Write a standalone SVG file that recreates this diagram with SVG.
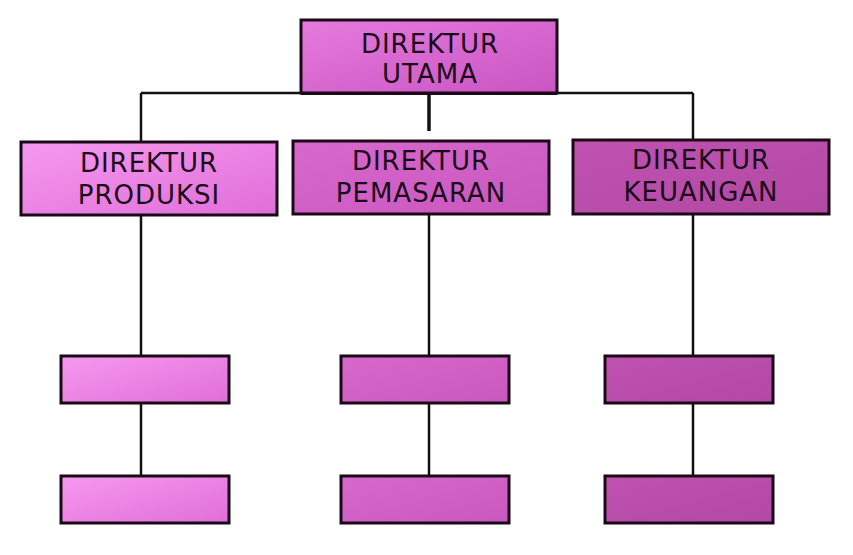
<svg xmlns="http://www.w3.org/2000/svg" width="853" height="555" viewBox="0 0 853 555">
<style>
.box{stroke:#1a0a18;stroke-width:3}
.lbl{font-family:"DejaVu Sans","Liberation Sans",sans-serif;font-size:26px;letter-spacing:1px;fill:#1a0a18;text-anchor:middle}
.ln{stroke:#111;stroke-width:2.5;fill:none}
</style>
<defs>
<linearGradient id="gTop" x1="0" y1="0" x2="1" y2="1"><stop offset="0" stop-color="#e67ade"/><stop offset="1" stop-color="#c955c2"/></linearGradient>
<linearGradient id="gA" x1="0" y1="0" x2="1" y2="1"><stop offset="0" stop-color="#f699ef"/><stop offset="1" stop-color="#e06ed8"/></linearGradient>
<linearGradient id="gB" x1="0" y1="0" x2="1" y2="1"><stop offset="0" stop-color="#d868cd"/><stop offset="1" stop-color="#c958be"/></linearGradient>
<linearGradient id="gC" x1="0" y1="0" x2="1" y2="1"><stop offset="0" stop-color="#c052b2"/><stop offset="1" stop-color="#b249a3"/></linearGradient>
</defs>
<rect width="853" height="555" fill="#ffffff"/>
<g id="connectors">
<path class="ln" d="M141 93 H693"/>
<path class="ln" d="M141 93 V141"/>
<path class="ln" d="M693 93 V139"/>
<path class="ln" d="M429 80 V131" style="stroke-width:3.5"/>
<path class="ln" d="M141 215 V356 M141 403 V476"/>
<path class="ln" d="M429 214 V356 M429 403 V476"/>
<path class="ln" d="M693 214 V356 M693 403 V476"/>
</g>
<g id="direktur-utama">
<rect class="box" x="301" y="20" width="256" height="73" fill="url(#gTop)"/>
<path d="M301 94 H557" stroke="#1a0a18" stroke-width="2"/>
<text class="lbl" x="430" y="53">DIREKTUR</text>
<text class="lbl" x="430" y="83">UTAMA</text>
</g>
<g id="direktur-produksi">
<rect class="box" x="21" y="142" width="256" height="73" fill="url(#gA)"/>
<text class="lbl" x="149" y="172">DIREKTUR</text>
<text class="lbl" x="149" y="204">PRODUKSI</text>
</g>
<g id="direktur-pemasaran">
<rect class="box" x="293" y="141" width="256" height="73" fill="url(#gB)"/>
<text class="lbl" x="421" y="170">DIREKTUR</text>
<text class="lbl" x="421" y="202">PEMASARAN</text>
</g>
<g id="direktur-keuangan">
<rect class="box" x="573" y="140" width="256" height="74" fill="url(#gC)"/>
<text class="lbl" x="701" y="169">DIREKTUR</text>
<text class="lbl" x="701" y="201">KEUANGAN</text>
</g>
<g id="produksi-1"><rect class="box" x="61" y="356" width="168" height="47" fill="url(#gA)"/></g>
<g id="produksi-2"><rect class="box" x="61" y="476" width="168" height="47" fill="url(#gA)"/></g>
<g id="pemasaran-1"><rect class="box" x="341" y="356" width="168" height="47" fill="url(#gB)"/></g>
<g id="pemasaran-2"><rect class="box" x="341" y="476" width="168" height="47" fill="url(#gB)"/></g>
<g id="keuangan-1"><rect class="box" x="605" y="356" width="168" height="47" fill="url(#gC)"/></g>
<g id="keuangan-2"><rect class="box" x="605" y="476" width="168" height="47" fill="url(#gC)"/></g>
</svg>
